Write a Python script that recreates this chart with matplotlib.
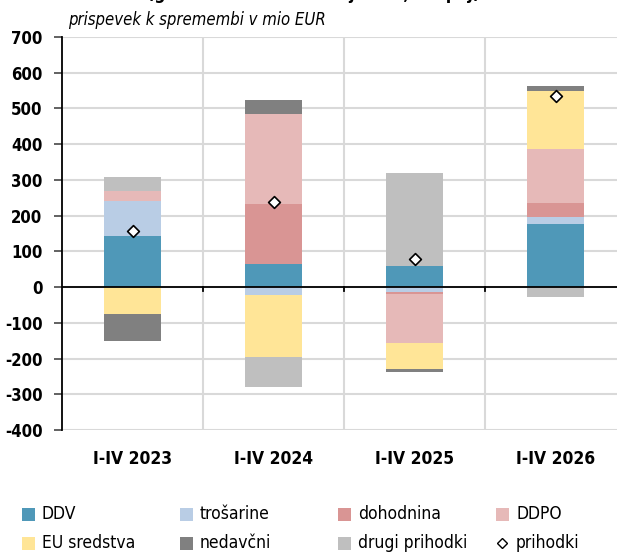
import matplotlib
matplotlib.use("Agg")
import matplotlib.pyplot as plt
import numpy as np
from matplotlib.patches import Rectangle
from matplotlib.lines import Line2D

categories = ["I-IV 2023", "I-IV 2024", "I-IV 2025", "I-IV 2026"]
series_names = ["DDV", "trošarine", "dohodnina", "DDPO", "EU sredstva", "nedavčni", "drugi prihodki"]
ddv = [142, 66, 59, 176]
trosarine = [98, -22, -14, 19]
dohodnina = [0, 167, -6, 40]
ddpo = [28, 252, -136, 152]
eu_sredstva = [-74, -173, -73, 162]
nedavcni = [-77, 39, -9, 13]
drugi = [39, -86, 260, -28]
prihodki = [158, 239, 80, 535]

colors = ["#4F98B8", "#B9CDE5", "#D99594", "#E6B9B8", "#FFE597", "#808080", "#BFBFBF"]
plt.rcParams["font.family"] = "DejaVu Sans"
plt.rcParams["font.stretch"] = "condensed"
plt.rcParams["axes.unicode_minus"] = False

W, H = 617, 553
fig = plt.figure(figsize=(W / 100, H / 100), dpi=100)
ax = fig.add_axes([62 / W, 1 - 430 / H, 564 / W, (430 - 37) / H])

x = np.arange(len(categories))
pos_b = np.zeros(len(categories))
neg_b = np.zeros(len(categories))
for vals, col in zip([ddv, trosarine, dohodnina, ddpo, eu_sredstva, nedavcni, drugi], colors):
    v = np.array(vals, dtype=float)
    bottom = np.where(v >= 0, pos_b, neg_b)
    ax.bar(x, v, 0.4, bottom=bottom, color=col, zorder=3, linewidth=0)
    pos_b += np.clip(v, 0, None)
    neg_b += np.clip(v, None, 0)

ax.scatter(x, prihodki, marker="D", s=36, facecolor="white", edgecolor="black",
           linewidth=1.2, zorder=5)

ax.set_xlim(-0.5, 3.5)
ax.set_ylim(-400, 700)
ax.set_yticks(range(-400, 701, 100))
for yv in range(-400, 701, 100):
    ax.axhline(yv, color="#D9D9D9", lw=1.5, zorder=1)
for xv in [0.5, 1.5, 2.5]:
    ax.axvline(xv, color="#D9D9D9", lw=1.5, zorder=1)
ax.axhline(0, color="black", lw=1.3, zorder=4)
for xv in [0.5, 1.5, 2.5]:
    ax.plot([xv, xv], [0, -12], color="black", lw=1.3, zorder=4)

for s in ["top", "right", "bottom"]:
    ax.spines[s].set_visible(False)
ax.spines["left"].set_color("black")
ax.spines["left"].set_linewidth(1.3)
ax.tick_params(axis="y", length=6, width=1.3, color="#555555", pad=8, labelsize=12)
ax.set_xticks([])
for lab in ax.get_yticklabels():
    lab.set_fontweight("bold")
for xi, c in zip(x, categories):
    ax.text(xi, -481, c, ha="center", va="center", fontsize=12.5, fontweight="bold")

fig.text(68 / W, 1 - 20 / H, "prispevek k spremembi v mio EUR", ha="left", va="center",
         fontsize=12, style="italic")
# title sits mostly above the canvas, as in the original crop
fig.text(314 / W, 1 + 1 / H, "(glede na enako obdobje lani, skupaj)", ha="center", va="baseline",
         fontsize=12.5, fontweight="bold")

# legend, row-major like the original
labels = series_names + ["prihodki"]
for i, lab in enumerate(labels):
    row, col = divmod(i, 4)
    px = 22 + 158 * col
    py = 514 + 29 * row
    if i < len(series_names):
        fig.add_artist(Rectangle((px / W, 1 - (py + 7) / H), 13 / W, 13 / H,
                                 transform=fig.transFigure, color=colors[i], lw=0))
    else:
        fig.add_artist(Line2D([(px + 6) / W], [1 - py / H], marker="D", markersize=5.5,
                              markerfacecolor="white", markeredgecolor="black",
                              markeredgewidth=1, transform=fig.transFigure))
    fig.text((px + 20) / W, 1 - py / H, lab, ha="left", va="center", fontsize=12.5)

fig.savefig("out.png", dpi=100)
